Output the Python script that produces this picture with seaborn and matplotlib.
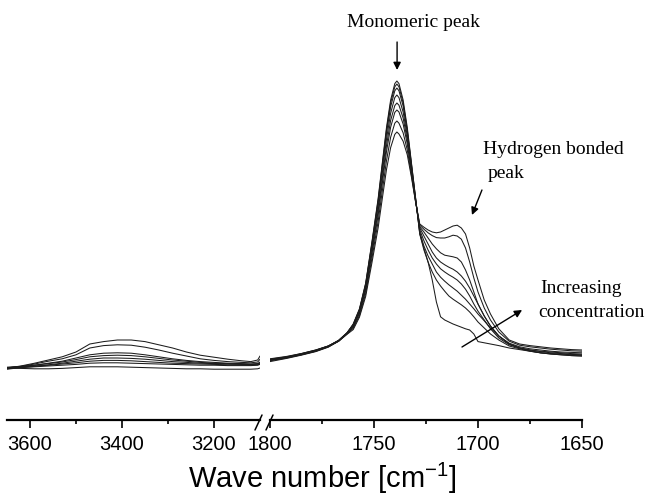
import numpy as np
import pandas as pd
import matplotlib
matplotlib.use("Agg")
import matplotlib.pyplot as plt
from matplotlib.lines import Line2D
from matplotlib.ticker import FixedLocator
import seaborn as sns

# ---- O-H stretching region (cm^-1) ----
wn_oh = [3650, 3620, 3590, 3560, 3530, 3500, 3470, 3440, 3410, 3380, 3350,
         3320, 3290, 3260, 3230, 3200, 3170, 3140, 3120, 3105, 3100]
oh_s1 = [0.130, 0.129, 0.128, 0.128, 0.129, 0.131, 0.133, 0.133, 0.133, 0.132, 0.131,
         0.130, 0.129, 0.128, 0.128, 0.127, 0.127, 0.127, 0.127, 0.128, 0.130]
oh_s2 = [0.129, 0.131, 0.133, 0.135, 0.137, 0.139, 0.142, 0.143, 0.143, 0.142, 0.141,
         0.140, 0.139, 0.138, 0.137, 0.137, 0.136, 0.136, 0.136, 0.137, 0.139]
oh_s3 = [0.131, 0.133, 0.135, 0.137, 0.140, 0.143, 0.147, 0.149, 0.149, 0.148, 0.146,
         0.144, 0.142, 0.141, 0.140, 0.139, 0.138, 0.138, 0.137, 0.138, 0.140]
oh_s4 = [0.127, 0.131, 0.134, 0.138, 0.142, 0.147, 0.152, 0.155, 0.155, 0.154, 0.152,
         0.149, 0.146, 0.144, 0.142, 0.141, 0.140, 0.139, 0.139, 0.140, 0.142]
oh_s5 = [0.132, 0.134, 0.137, 0.141, 0.145, 0.151, 0.158, 0.161, 0.162, 0.161, 0.158,
         0.154, 0.150, 0.147, 0.144, 0.142, 0.141, 0.140, 0.139, 0.140, 0.143]
oh_s6 = [0.128, 0.132, 0.137, 0.142, 0.147, 0.155, 0.163, 0.167, 0.168, 0.167, 0.163,
         0.158, 0.153, 0.149, 0.146, 0.144, 0.142, 0.141, 0.140, 0.141, 0.145]
oh_s7 = [0.130, 0.134, 0.140, 0.147, 0.153, 0.163, 0.180, 0.186, 0.188, 0.187, 0.182,
         0.175, 0.167, 0.160, 0.153, 0.149, 0.146, 0.144, 0.143, 0.145, 0.152]
oh_s8 = [0.130, 0.135, 0.142, 0.150, 0.158, 0.170, 0.190, 0.196, 0.200, 0.200, 0.196,
         0.188, 0.180, 0.170, 0.162, 0.157, 0.152, 0.148, 0.146, 0.150, 0.160]

# ---- C=O stretching region (cm^-1) ----
wn_co = [1800, 1792, 1785, 1778, 1772, 1767, 1763,
         1760, 1757, 1754, 1751, 1748, 1746, 1744, 1742, 1740, 1739,
         1738, 1736, 1734, 1732, 1730,
         1728, 1726, 1724, 1722, 1720, 1718, 1716, 1714, 1712, 1710, 1708,
         1706, 1704, 1702, 1700,
         1697, 1694, 1690, 1685, 1680, 1675, 1670, 1665, 1660, 1655, 1650]
co_s1 = [0.148, 0.155, 0.163, 0.172, 0.183, 0.198, 0.217,
         0.240, 0.278, 0.342, 0.445, 0.554, 0.643, 0.731, 0.800, 0.841, 0.8475,
         0.841, 0.800, 0.731, 0.643, 0.554,
         0.465, 0.430, 0.395, 0.350, 0.295, 0.258, 0.250, 0.245, 0.240, 0.236, 0.232,
         0.228, 0.225, 0.215, 0.196,
         0.193, 0.190, 0.186, 0.180, 0.176, 0.172, 0.168, 0.166, 0.165, 0.163, 0.162]
co_s2 = [0.150, 0.156, 0.164, 0.173, 0.184, 0.199, 0.218,
         0.239, 0.276, 0.341, 0.442, 0.550, 0.638, 0.725, 0.793, 0.833, 0.840,
         0.833, 0.793, 0.725, 0.640, 0.555,
         0.465, 0.425, 0.395, 0.370, 0.350, 0.335, 0.322, 0.310, 0.302, 0.295, 0.288,
         0.280, 0.270, 0.258, 0.245,
         0.230, 0.215, 0.200, 0.185, 0.178, 0.172, 0.168, 0.165, 0.163, 0.161, 0.160]
co_s3 = [0.151, 0.157, 0.165, 0.174, 0.185, 0.199, 0.218,
         0.238, 0.275, 0.338, 0.438, 0.544, 0.631, 0.717, 0.783, 0.823, 0.830,
         0.823, 0.785, 0.720, 0.636, 0.552,
         0.470, 0.435, 0.410, 0.390, 0.370, 0.357, 0.347, 0.338, 0.330, 0.322, 0.312,
         0.302, 0.290, 0.278, 0.265,
         0.248, 0.230, 0.210, 0.190, 0.180, 0.173, 0.168, 0.165, 0.163, 0.161, 0.160]
co_s4 = [0.146, 0.154, 0.162, 0.171, 0.182, 0.197, 0.216,
         0.236, 0.272, 0.333, 0.430, 0.534, 0.618, 0.702, 0.767, 0.806, 0.8125,
         0.806, 0.770, 0.710, 0.630, 0.550,
         0.475, 0.448, 0.425, 0.405, 0.390, 0.378, 0.370, 0.363, 0.357, 0.350, 0.340,
         0.327, 0.310, 0.290, 0.272,
         0.250, 0.228, 0.205, 0.188, 0.180, 0.175, 0.171, 0.168, 0.166, 0.164, 0.163]
co_s5 = [0.152, 0.158, 0.166, 0.175, 0.185, 0.199, 0.217,
         0.234, 0.269, 0.328, 0.422, 0.523, 0.604, 0.686, 0.749, 0.786, 0.7925,
         0.787, 0.755, 0.700, 0.625, 0.548,
         0.480, 0.460, 0.440, 0.420, 0.405, 0.395, 0.388, 0.382, 0.377, 0.370, 0.360,
         0.347, 0.330, 0.310, 0.290,
         0.260, 0.235, 0.210, 0.190, 0.180, 0.175, 0.172, 0.170, 0.168, 0.166, 0.165]
co_s6 = [0.149, 0.156, 0.163, 0.172, 0.183, 0.197, 0.215,
         0.232, 0.266, 0.324, 0.415, 0.513, 0.592, 0.671, 0.732, 0.769, 0.775,
         0.770, 0.740, 0.690, 0.620, 0.547,
         0.483, 0.470, 0.455, 0.440, 0.428, 0.418, 0.412, 0.410, 0.408, 0.405, 0.395,
         0.375, 0.350, 0.320, 0.290,
         0.260, 0.235, 0.210, 0.192, 0.183, 0.178, 0.175, 0.172, 0.170, 0.169, 0.168]
co_s7 = [0.153, 0.159, 0.166, 0.175, 0.185, 0.198, 0.216,
         0.229, 0.261, 0.316, 0.404, 0.497, 0.573, 0.648, 0.707, 0.742, 0.7475,
         0.742, 0.718, 0.675, 0.612, 0.545,
         0.487, 0.477, 0.468, 0.461, 0.456, 0.455, 0.455, 0.458, 0.462, 0.460, 0.452,
         0.430, 0.395, 0.355, 0.320,
         0.280, 0.250, 0.220, 0.197, 0.187, 0.183, 0.180, 0.177, 0.175, 0.173, 0.172]
co_s8 = [0.150, 0.157, 0.165, 0.174, 0.184, 0.197, 0.214,
         0.226, 0.257, 0.309, 0.393, 0.481, 0.554, 0.626, 0.681, 0.714, 0.720,
         0.715, 0.697, 0.663, 0.607, 0.545,
         0.490, 0.482, 0.475, 0.470, 0.468, 0.470, 0.475, 0.480, 0.485, 0.487, 0.480,
         0.465, 0.430, 0.385, 0.350,
         0.300, 0.265, 0.228, 0.200, 0.190, 0.186, 0.183, 0.180, 0.178, 0.176, 0.175]

oh_spectra = [oh_s1, oh_s2, oh_s3, oh_s4, oh_s5, oh_s6, oh_s7, oh_s8]
co_spectra = [co_s1, co_s2, co_s3, co_s4, co_s5, co_s6, co_s7, co_s8]

oh_ticks_major = [3600, 3400, 3200]
oh_ticks_minor = [3500, 3300]
co_ticks_major = [1800, 1750, 1700, 1650]
co_ticks_minor = [1775, 1725, 1675]


def long_form(wn, spectra):
    frames = []
    for i, s in enumerate(spectra):
        frames.append(pd.DataFrame({"wavenumber": wn, "absorbance": s,
                                    "spectrum": f"s{i + 1}"}))
    return pd.concat(frames, ignore_index=True)


df_oh = long_form(wn_oh, oh_spectra)
df_co = long_form(wn_co, co_spectra)

sns.set_theme(style="white")
plt.rcParams["font.family"] = ["Liberation Sans", "DejaVu Sans"]

W, H = 648, 495
fig = plt.figure(figsize=(W / 100, H / 100), dpi=100)
fig.patch.set_facecolor("white")


def px_box(x0, x1, ytop, ybot):
    return [x0 / W, (H - ybot) / H, (x1 - x0) / W, (ybot - ytop) / H]


ax_l = fig.add_axes(px_box(7, 260, 20, 420))
ax_r = fig.add_axes(px_box(270, 582, 20, 420))

line_kw = dict(x="wavenumber", y="absorbance", units="spectrum", estimator=None,
               sort=False, color="#1c1c1c", linewidth=0.75)
sns.lineplot(data=df_oh, ax=ax_l, **line_kw)
sns.lineplot(data=df_co, ax=ax_r, **line_kw)

ax_l.set_xlim(3650, 3100)
ax_r.set_xlim(1800, 1650)

for ax, major, minor in ((ax_l, oh_ticks_major, oh_ticks_minor),
                         (ax_r, co_ticks_major, co_ticks_minor)):
    ax.set_ylim(0, 1)
    ax.set_facecolor("none")
    ax.xaxis.set_major_locator(FixedLocator(major))
    ax.xaxis.set_minor_locator(FixedLocator(minor))
    ax.set_yticks([])
    ax.set_xlabel("")
    ax.set_ylabel("")
    for side in ("left", "right", "top"):
        ax.spines[side].set_visible(False)
    ax.spines["bottom"].set_color("black")
    ax.spines["bottom"].set_linewidth(1.6)
    ax.tick_params(axis="x", which="major", bottom=True, direction="out",
                   length=5.5, width=1.2, color="black", labelcolor="black",
                   labelsize=14.5, pad=5)
    ax.tick_params(axis="x", which="minor", bottom=True, direction="out",
                   length=3, width=1.2, color="black")

# axis break marks
for x0 in (255, 266):
    fig.add_artist(Line2D([x0 / W, (x0 + 7) / W], [(H - 430) / H, (H - 415) / H],
                          transform=fig.transFigure, color="black", lw=1.1))

fig.text(322 / W, (H - 488) / H, r"Wave number [cm$^{\mathregular{-1}}$]",
         ha="center", va="baseline", fontsize=21, color="black")

serif = dict(family=["Liberation Serif", "DejaVu Serif"], fontsize=14, color="black")
arrow = dict(arrowstyle="-|>", color="black", lw=1.0, mutation_scale=11,
             shrinkA=0, shrinkB=0)

ax_r.text(1763, 0.9825, "Monomeric peak", ha="left", va="baseline", **serif)
ax_r.annotate("", xy=(1738.9, 0.875), xytext=(1738.9, 0.945), arrowprops=arrow)

ax_r.text(1697.6, 0.665, "Hydrogen bonded", ha="left", va="baseline", **serif)
ax_r.text(1695.2, 0.605, "peak", ha="left", va="baseline", **serif)
ax_r.annotate("", xy=(1702.9, 0.5125), xytext=(1698.1, 0.575), arrowprops=arrow)

ax_r.text(1670.2, 0.3175, "Increasing", ha="left", va="baseline", clip_on=False, **serif)
ax_r.text(1671.2, 0.2575, "concentration", ha="left", va="baseline", clip_on=False, **serif)
ax_r.annotate("", xy=(1678.8, 0.275), xytext=(1707.7, 0.1825), arrowprops=arrow)

fig.savefig("out.png", dpi=100, facecolor="white")
